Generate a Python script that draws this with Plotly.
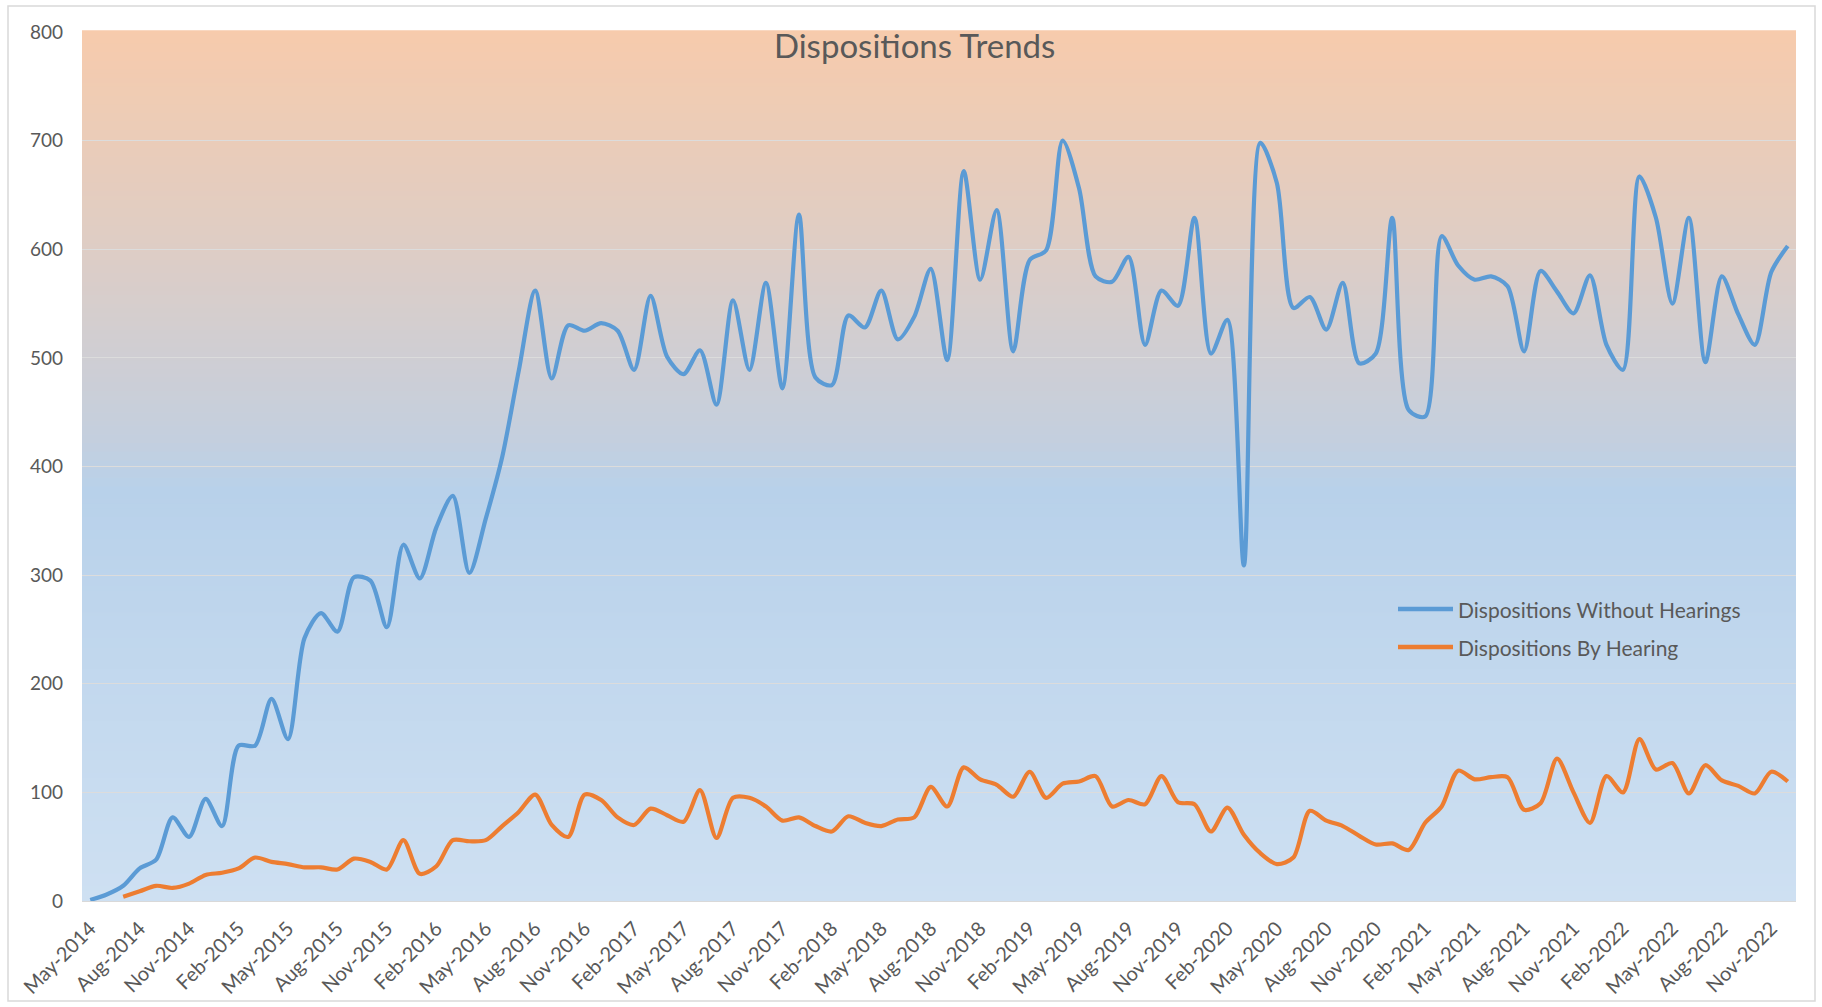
import plotly.graph_objects as go
import pandas as pd

# ---- data ----
months = pd.date_range("2014-05-01", periods=104, freq="MS").strftime("%b-%Y").tolist()
tick_labels = months[::3]

series_names = ["Dispositions Without Hearings", "Dispositions By Hearing"]
without_hearings = [
    1, 6, 14, 30, 38, 77, 59, 94, 69, 143, 143, 186, 149, 242, 265, 248, 298, 295,
    252, 328, 297, 344, 373, 302, 352, 409, 488, 562, 481, 530, 525, 532, 525, 489,
    557, 501, 485, 507, 457, 553, 489, 569, 472, 632, 482, 475, 539, 528, 562, 517,
    538, 582, 498, 672, 572, 636, 506, 590, 599, 700, 656, 575, 570, 593, 512, 562,
    548, 629, 504, 535, 309, 698, 661, 546, 556, 526, 569, 495, 504, 629, 452, 446,
    612, 585, 572, 575, 566, 506, 580, 561, 541, 576, 512, 489, 667, 629, 550, 629,
    496, 575, 540, 512, 579, 603,
]
by_hearing = [
    None, None, 4, 9, 14, 12, 16, 24, 26, 30, 40, 36, 34, 31, 31, 29, 39, 36,
    29, 56, 25, 32, 56, 55, 56, 69, 82, 98, 70, 59, 98, 93, 77, 70,
    85, 79, 73, 102, 58, 95, 95, 87, 74, 77, 69, 64, 78, 72, 69, 75,
    77, 105, 87, 123, 112, 107, 96, 119, 95, 108, 110, 115, 87, 93, 89, 115,
    91, 89, 64, 86, 61, 44, 34, 40, 83, 74, 69, 60, 52, 53, 47, 72,
    87, 120, 112, 114, 114, 84, 90, 131, 100, 72, 115, 100, 149, 121, 127, 99,
    125, 111, 106, 99, 119, 110,
]
colors = ["#5B9BD5", "#ED7D31"]

# ---- layout geometry (pixels) ----
W, H = 1822, 1007
ML, MR, MT, MB = 82, 26, 32, 106
PW, PH = W - ML - MR, H - MT - MB

def px_x(p):
    return (p - ML) / PW

def px_y(p):
    return 1 - (p - MT) / PH

fig = go.Figure()
for name, vals, c in zip(series_names, [without_hearings, by_hearing], colors):
    fig.add_trace(go.Scatter(
        x=months, y=vals, name=name, mode="lines", showlegend=False,
        line=dict(color=c, width=4.2, shape="spline", smoothing=0.8),
    ))

# gradient background for plot area
stops = [
    (0.0, (247, 203, 172)),
    (0.25, (222, 205, 197)),
    (0.47, (196, 207, 222)),
    (0.53, (184, 209, 234)),
    (1.0, (206, 224, 242)),
]

def col_at(t):
    for (t0, c0), (t1, c1) in zip(stops[:-1], stops[1:]):
        if t0 <= t <= t1:
            f = 0 if t1 == t0 else (t - t0) / (t1 - t0)
            return "rgb(%d,%d,%d)" % tuple(round(a + (b - a) * f) for a, b in zip(c0, c1))
    return "rgb(%d,%d,%d)" % stops[-1][1]

shapes = []
N = 200
for k in range(N):
    t0 = k / N
    t1 = (k + 1) / N
    shapes.append(dict(
        type="rect", xref="x domain", yref="y domain",
        x0=0, x1=1, y0=1 - t1, y1=1 - t0 + 0.002,
        fillcolor=col_at((t0 + t1) / 2), line=dict(width=0), layer="below",
    ))

# outer chart border
shapes.append(dict(
    type="rect", xref="paper", yref="paper",
    x0=px_x(8), x1=px_x(1815), y0=px_y(1001), y1=px_y(6),
    line=dict(color="#D9D9D9", width=1.5), fillcolor="rgba(0,0,0,0)", layer="below",
))

font_family = "Lato, 'Open Sans', sans-serif"

# manual legend (inside plot area)
annotations = []
legend_rows = [609, 647]
for name, c, yy in zip(series_names, colors, legend_rows):
    shapes.append(dict(
        type="line", xref="paper", yref="paper",
        x0=px_x(1398), x1=px_x(1453), y0=px_y(yy), y1=px_y(yy),
        line=dict(color=c, width=4.5), layer="above",
    ))
    annotations.append(dict(
        xref="paper", yref="paper", x=px_x(1456), y=px_y(yy),
        xanchor="left", yanchor="middle", showarrow=False, text=name,
        font=dict(size=21, color="#595959", family=font_family),
    ))

fig.update_layout(
    width=W, height=H,
    margin=dict(l=ML, r=MR, t=MT, b=MB, autoexpand=False),
    paper_bgcolor="white",
    plot_bgcolor="rgba(0,0,0,0)",
    shapes=shapes,
    annotations=annotations,
    font=dict(family=font_family, color="#595959", size=19),
    title=dict(
        text="Dispositions Trends", x=0.502, y=1 - 46 / H, xanchor="center", yanchor="middle",
        font=dict(size=33, color="#595959", family=font_family),
    ),
    showlegend=False,
    xaxis=dict(
        type="category", range=[-0.5, len(months) - 0.5], automargin=False,
        tickmode="array", tickvals=tick_labels, ticktext=tick_labels,
        tickangle=-45, showgrid=False, showline=True, linecolor="#D9D9D9", linewidth=1,
        ticks="", tickfont=dict(size=20, color="#595959"), ticklabelstandoff=7,
    ),
    yaxis=dict(
        range=[0, 800], dtick=100, showgrid=True, gridcolor="#DCDCDC", gridwidth=1,
        zeroline=False, showline=False, ticks="", automargin=False,
        tickfont=dict(size=19, color="#595959"), ticklabelstandoff=18,
    ),
)

fig.write_html(
    "out.html",
    config={"displayModeBar": False},
    post_script="document.body.style.margin='0px';document.body.style.overflow='hidden';",
)
